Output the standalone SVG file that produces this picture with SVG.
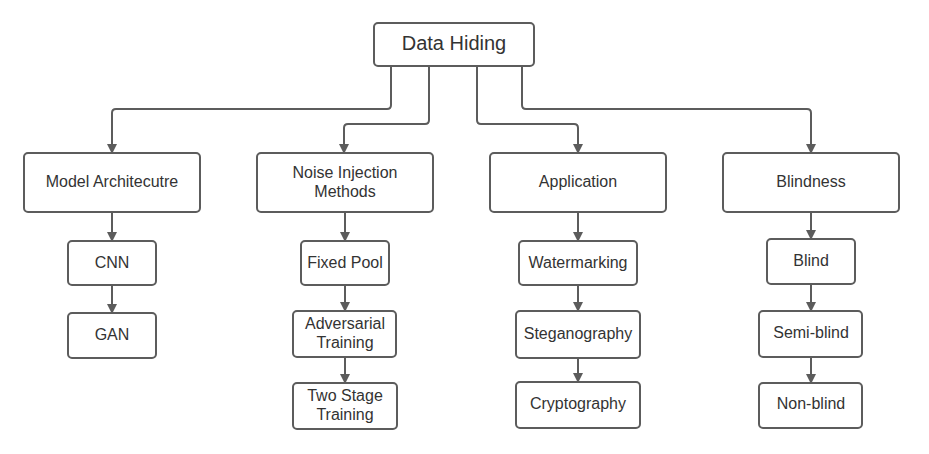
<svg xmlns="http://www.w3.org/2000/svg" width="929" height="454" viewBox="0 0 929 454">
<defs>
<marker id="ah" markerWidth="10" markerHeight="10" refX="9" refY="5" orient="auto" markerUnits="userSpaceOnUse">
<path d="M0,0 L10,5 L0,10 Z" fill="#5c5c5c"/>
</marker>
<style>
.box{fill:#fff;stroke:#5c5c5c;stroke-width:2}
.t{font-family:"Liberation Sans",Arial,sans-serif;font-size:16px;fill:#333;text-anchor:middle}
.big{font-size:20px}
.c{fill:none;stroke:#5c5c5c;stroke-width:2;marker-end:url(#ah)}
</style>
</defs>
<rect width="929" height="454" fill="#fff"/>
<g id="connectors">
<path class="c" d="M391,66 V105 Q391,109 387,109 H116 Q112,109 112,113 V153"/>
<path class="c" d="M429,66 V120 Q429,124 425,124 H348 Q344,124 344,128 V153"/>
<path class="c" d="M477,66 V120 Q477,124 481,124 H574 Q578,124 578,128 V153"/>
<path class="c" d="M522,66 V105 Q522,109 526,109 H807 Q811,109 811,113 V153"/>
<path class="c" d="M112,212 V241"/>
<path class="c" d="M112,285 V313"/>
<path class="c" d="M345,212 V241"/>
<path class="c" d="M345,285 V311"/>
<path class="c" d="M345,357 V383"/>
<path class="c" d="M578,212 V241"/>
<path class="c" d="M578,285 V311"/>
<path class="c" d="M578,358 V382"/>
<path class="c" d="M811,212 V239"/>
<path class="c" d="M811,284 V311"/>
<path class="c" d="M811,357 V383"/>
</g>
<g id="data-hiding"><rect class="box" x="374" y="23" width="160" height="43" rx="4"/><text class="t big" x="454" y="50">Data Hiding</text></g>
<g id="model-architecture"><rect class="box" x="24" y="153" width="176" height="59" rx="4"/><text class="t" x="112" y="187">Model Architecutre</text></g>
<g id="cnn"><rect class="box" x="68" y="241" width="88" height="44" rx="4"/><text class="t" x="112" y="268">CNN</text></g>
<g id="gan"><rect class="box" x="68" y="313" width="88" height="45" rx="4"/><text class="t" x="112" y="340">GAN</text></g>
<g id="noise-injection"><rect class="box" x="257" y="153" width="176" height="59" rx="4"/><text class="t" x="345" y="178">Noise Injection</text><text class="t" x="345" y="197">Methods</text></g>
<g id="fixed-pool"><rect class="box" x="301" y="241" width="88" height="44" rx="4"/><text class="t" x="345" y="268">Fixed Pool</text></g>
<g id="adversarial"><rect class="box" x="293" y="311" width="103" height="46" rx="4"/><text class="t" x="345" y="329">Adversarial</text><text class="t" x="345" y="348">Training</text></g>
<g id="two-stage"><rect class="box" x="293" y="383" width="104" height="46" rx="4"/><text class="t" x="345" y="401">Two Stage</text><text class="t" x="345" y="420">Training</text></g>
<g id="application"><rect class="box" x="490" y="153" width="176" height="59" rx="4"/><text class="t" x="578" y="187">Application</text></g>
<g id="watermarking"><rect class="box" x="519" y="241" width="118" height="44" rx="4"/><text class="t" x="578" y="268">Watermarking</text></g>
<g id="steganography"><rect class="box" x="516" y="311" width="124" height="47" rx="4"/><text class="t" x="578" y="339">Steganography</text></g>
<g id="cryptography"><rect class="box" x="516" y="382" width="124" height="46" rx="4"/><text class="t" x="578" y="409">Cryptography</text></g>
<g id="blindness"><rect class="box" x="723" y="153" width="176" height="59" rx="4"/><text class="t" x="811" y="187">Blindness</text></g>
<g id="blind"><rect class="box" x="767" y="239" width="88" height="45" rx="4"/><text class="t" x="811" y="266">Blind</text></g>
<g id="semi-blind"><rect class="box" x="759" y="311" width="103" height="46" rx="4"/><text class="t" x="811" y="338">Semi-blind</text></g>
<g id="non-blind"><rect class="box" x="759" y="383" width="103" height="45" rx="4"/><text class="t" x="811" y="409">Non-blind</text></g>
</svg>
